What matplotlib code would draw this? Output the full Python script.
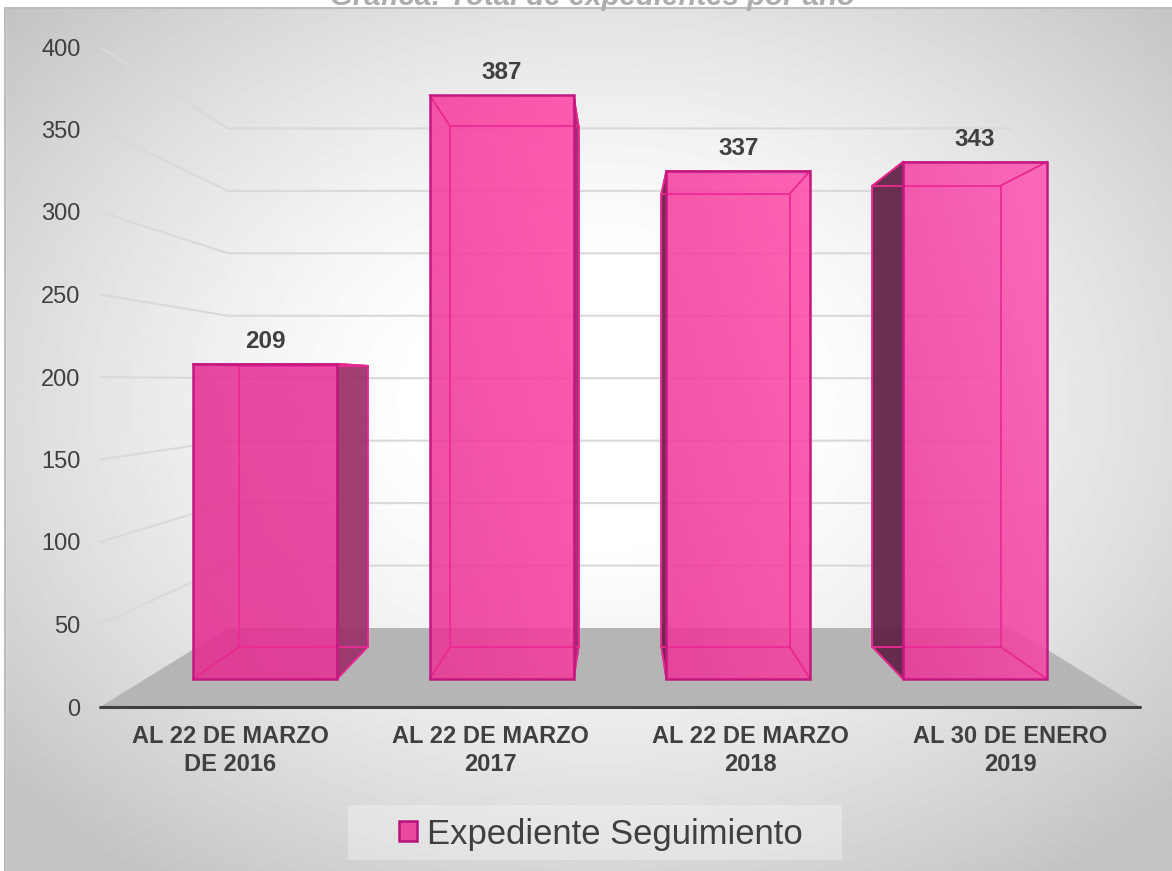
import numpy as np
import matplotlib
matplotlib.use("Agg")
import matplotlib.pyplot as plt
from matplotlib.patches import Patch, Polygon, Rectangle

plt.rcParams['font.family'] = ['Liberation Sans', 'DejaVu Sans']

# Data
categories = ['AL 22 DE MARZO\nDE 2016', 'AL 22 DE MARZO\n2017', 'AL 22 DE MARZO\n2018', 'AL 30 DE ENERO\n2019']
values = [209, 387, 337, 343]
y_ticks = [0, 50, 100, 150, 200, 250, 300, 350, 400]
series_name = 'Expediente Seguimiento'
title_text = 'Gráfica: Total de expedientes por año'

# per bar colours (lower left, upper right, dark side)
low_colors = ['#E42E90', '#EA3696', '#EC3698', '#EA3696']
high_colors = ['#E83499', '#FF46A5', '#FF4EAA', '#FF58B5']
side_colors = ['#9A2F69', '#9A2468', '#5E1F43', '#5E1F43']

W, H = 1172, 871
TEXT = '#404040'

# perspective of the 3d chart, in data units of the front plane
vp_x, vp_y = 1.5, 197
x_fix = 0.996
s_wall = 0.757
s_front = 0.914
s_back = 0.815
half = 0.304


def proj(x, v, s):
    return vp_x + (x - vp_x) * s * x_fix, vp_y + (v - vp_y) * s


def to_rgb(c):
    return np.array(matplotlib.colors.to_rgb(c))


fig = plt.figure(figsize=(W / 100, H / 100), dpi=100, facecolor='white')

# Background panel with radial gradient
bg = fig.add_axes([0, 0, 1, 1], zorder=-1)
px, py = np.meshgrid(np.arange(W), np.arange(H))
r = np.sqrt(((px - 600) / 586) ** 2 + ((py - 400) / 435) ** 2)
shade = 255 - 60 * np.clip((r - 0.3) / 1.05, 0, 1) ** 1.3
bg.imshow(shade, cmap='gray', vmin=0, vmax=255, extent=(0, W, H, 0), aspect='auto')
bg.add_patch(Rectangle((0, 0), W, 7, color='white', zorder=2))
bg.add_patch(Rectangle((0, 0), 5, H, color='white', zorder=2))
bg.plot([5, 5, W], [H, 8, 8], color='#BDBDBD', lw=1.5, zorder=3)
bg.set_xlim(0, W)
bg.set_ylim(H, 0)
bg.axis('off')

ax = fig.add_axes([100 / W, (H - 707) / H, 1040 / W, 660 / H])
ax.patch.set_alpha(0)

# Gridlines: side wall then back wall
for v in y_ticks[1:]:
    x1, y1 = proj(-0.5, v, s_wall)
    x2, y2 = proj(3.5, v, s_wall)
    ax.plot([-0.5, x1, x2], [v, y1, y2], color='#D9D9D9', lw=1.5, zorder=1, solid_joinstyle='round')

# Floor
floor = [(-0.5, 0), (3.5, 0), proj(3.5, 0, s_wall), proj(-0.5, 0, s_wall)]
ax.add_patch(Polygon(floor, closed=True, facecolor='#B5B5B5', edgecolor='none', zorder=2))

# Bars
for i, val in enumerate(values):
    left, right = i - half, i + half
    # outer side that can be seen from the vanishing point
    side = right if right < vp_x else left
    ax.add_patch(Polygon([proj(side, 0, s_front), proj(side, 0, s_back),
                          proj(side, val, s_back), proj(side, val, s_front)],
                         closed=True, facecolor=side_colors[i], edgecolor='#B7127A',
                         lw=1.2, alpha=0.92, zorder=3))

    fx0, fy0 = proj(left, 0, s_front)
    fx1, fy1 = proj(right, val, s_front)
    # diagonal gradient on the front face
    u, w = np.meshgrid(np.linspace(0, 1, 32), np.linspace(0, 1, 32))
    t = ((u + w) / 2)[..., None]
    grad = to_rgb(low_colors[i]) * (1 - t) + to_rgb(high_colors[i]) * t
    ax.imshow(grad, extent=(fx0, fx1, fy0, fy1), origin='lower', aspect='auto',
              interpolation='bilinear', alpha=0.88, zorder=4)

    # back face and connecting edges, seen through the front
    bx0, by0 = proj(left, 0, s_back)
    bx1, by1 = proj(right, val, s_back)
    ax.plot([bx0, bx1, bx1, bx0, bx0], [by0, by0, by1, by1, by0], color='#EC2A95', lw=1.3, zorder=5)
    for cx, cv in [(left, 0), (right, 0), (left, val), (right, val)]:
        a = proj(cx, cv, s_front)
        b = proj(cx, cv, s_back)
        ax.plot([a[0], b[0]], [a[1], b[1]], color='#E8288F', lw=1.3, zorder=5)

    ax.add_patch(Rectangle((fx0, fy0), fx1 - fx0, fy1 - fy0, fill=False,
                           edgecolor='#C2187F', lw=1.8, zorder=6))

    ax.annotate(str(val), xy=((fx0 + fx1) / 2, fy1), xytext=(0, 16.3), textcoords='offset points',
                ha='center', va='center', fontsize=17.5, fontweight='bold', color=TEXT, zorder=7)

# Axes
ax.set_xlim(-0.5, 3.5)
ax.set_ylim(0, 400)
ax.set_xticks(range(len(categories)))
ax.set_xticklabels(categories, fontsize=17, fontweight='bold', color=TEXT, linespacing=1.25)
ax.set_yticks(y_ticks)
ax.tick_params(axis='x', length=0, pad=13)
ax.tick_params(axis='y', length=0, pad=14, labelsize=17, labelcolor=TEXT)
for name in ['top', 'left', 'right']:
    ax.spines[name].set_visible(False)
ax.spines['bottom'].set_color(TEXT)
ax.spines['bottom'].set_linewidth(2.2)
ax.spines['bottom'].set_capstyle('round')

# Legend
fig.add_artist(Rectangle((348 / W, (H - 860) / H), 494 / W, 55 / H, transform=fig.transFigure,
                         facecolor='white', alpha=0.3, edgecolor='none'))
handle = Patch(facecolor='#E8489E', edgecolor='#B7127A', lw=1.8, label=series_name)
leg = fig.legend(handles=[handle], loc='center', bbox_to_anchor=(601 / W, (H - 834) / H),
                 frameon=False, fontsize=24.9, handlelength=0.53, handleheight=0.53,
                 handletextpad=0.29, labelcolor=TEXT)

fig.suptitle(title_text, x=592 / W, y=1 - 5 / H, va='baseline', ha='center', fontsize=21.2,
             fontweight='bold', fontstyle='italic', color='#ADADAD')

fig.savefig('out.png', dpi=100)
